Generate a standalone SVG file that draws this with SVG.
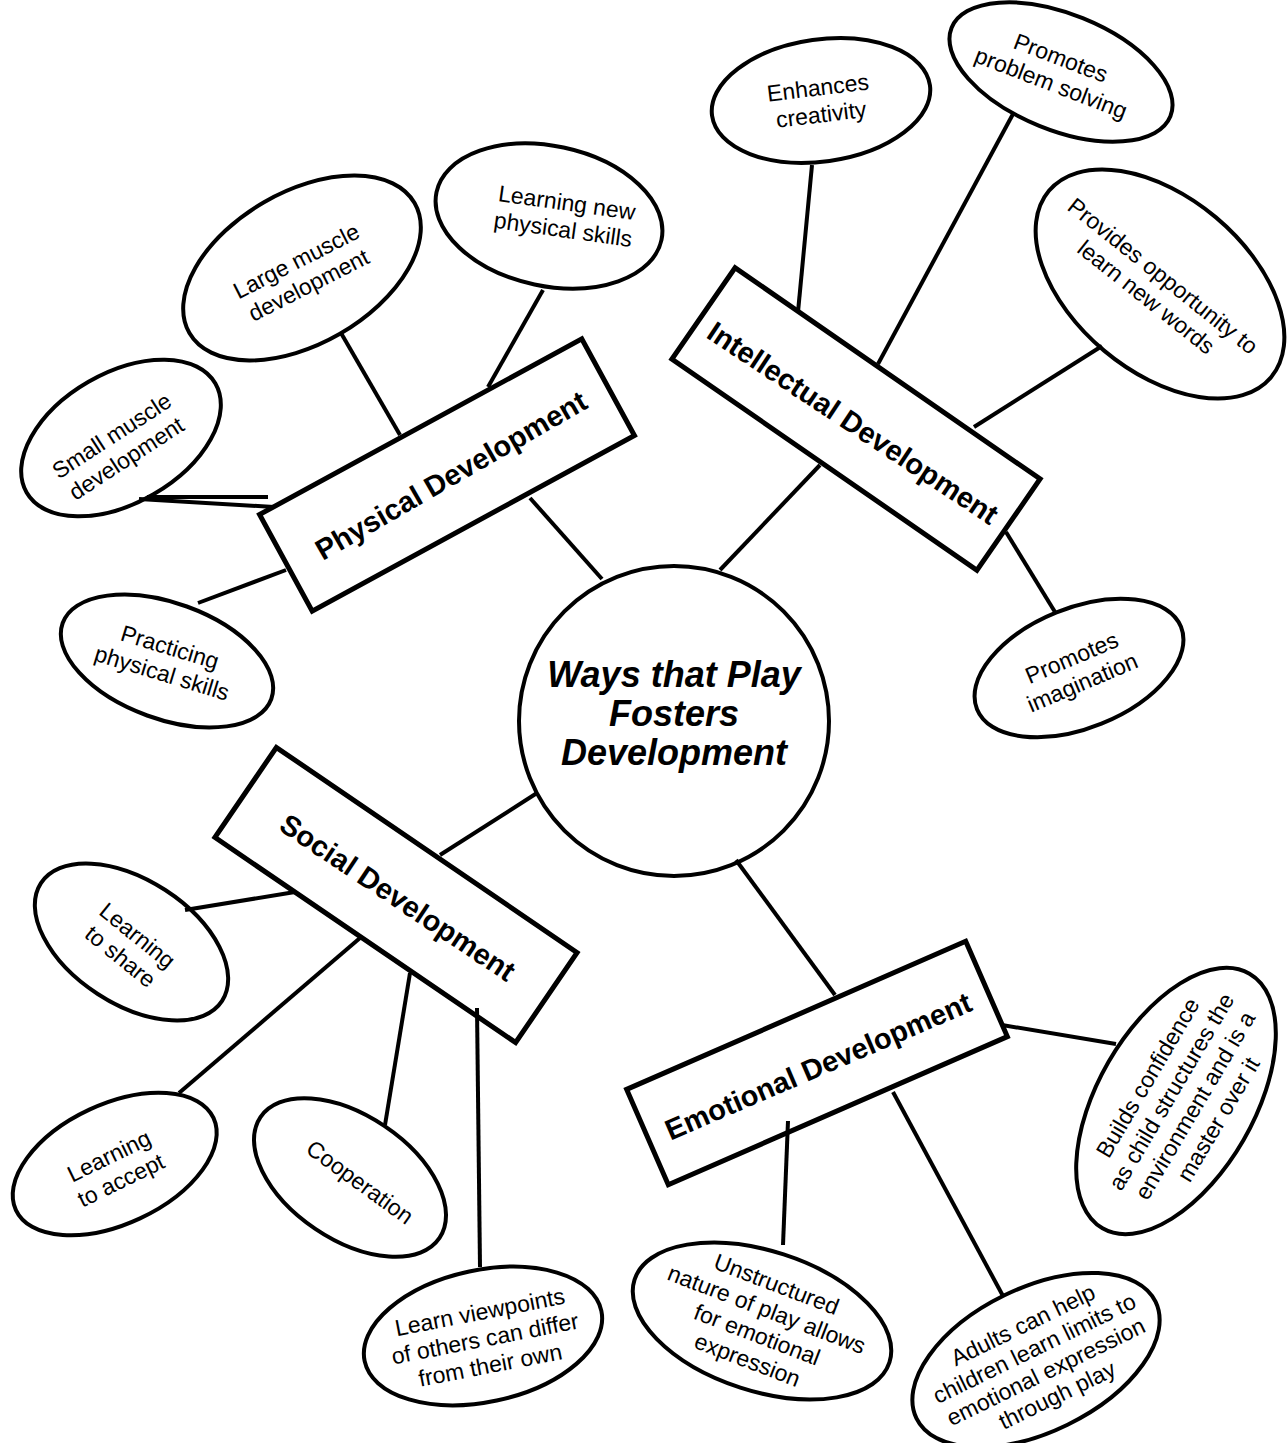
<svg xmlns="http://www.w3.org/2000/svg" width="1288" height="1443" viewBox="0 0 1288 1443">
<style>
.bg{fill:#fff}
.oval{fill:#fff;stroke:#000;stroke-width:4}
.box{fill:#fff;stroke:#000;stroke-width:5}
.hub{fill:#fff;stroke:#000;stroke-width:4}
#connectors line{stroke:#000;stroke-width:4}
text{font-family:"Liberation Sans",Arial,sans-serif;fill:#000;text-anchor:middle;dominant-baseline:central}
.lbl{font-size:23px}
.blbl{font-size:29px;font-weight:bold}
.title{font-size:36px;font-weight:bold;font-style:italic;dominant-baseline:auto}
</style>
<rect class="bg" x="0" y="0" width="1288" height="1443"/>

<g id="center">
<circle class="hub" cx="674" cy="721" r="155"/>
<text class="title"><tspan x="674" y="687">Ways that Play</tspan><tspan x="674" y="726">Fosters</tspan><tspan x="674" y="765">Development</tspan></text>
</g>

<g id="physical">
<rect class="box" x="-183.5" y="-55" width="367" height="110" transform="translate(447,475) rotate(-28.6)"/>
<text class="blbl" transform="translate(451,475.5) rotate(-30)">Physical Development</text>
</g>
<g id="intellectual">
<rect class="box" x="-185.5" y="-55.5" width="371" height="111" transform="translate(856,419) rotate(34.7)"/>
<text class="blbl" transform="translate(853,423) rotate(33.5)">Intellectual Development</text>
</g>
<g id="social">
<rect class="box" x="-182" y="-54.5" width="364" height="109" transform="translate(396,895) rotate(34.3)"/>
<text class="blbl" transform="translate(397.7,897.5) rotate(33.7)">Social Development</text>
</g>
<g id="emotional">
<rect class="box" x="-185" y="-52" width="370" height="104" transform="translate(817,1063) rotate(-23.6)"/>
<text class="blbl" transform="translate(818.3,1066.2) rotate(-23.3)">Emotional Development</text>
</g>

<g id="small-muscle">
<ellipse class="oval" rx="109" ry="65" transform="translate(121,438) rotate(-30)"/>
<text class="lbl" transform="translate(119,447) rotate(-33)"><tspan x="0" y="-13.5">Small muscle</tspan><tspan x="0" y="13.5">development</tspan></text>
</g>
<g id="large-muscle">
<ellipse class="oval" rx="130" ry="76" transform="translate(302,268) rotate(-30)"/>
<text class="lbl" transform="translate(302.5,273) rotate(-27)"><tspan x="0" y="-13.5">Large muscle</tspan><tspan x="0" y="13.5">development</tspan></text>
</g>
<g id="learning-new">
<ellipse class="oval" rx="115" ry="70" transform="translate(549,216) rotate(12)"/>
<text class="lbl" transform="translate(565,216) rotate(8)"><tspan x="0" y="-13.5">Learning new</tspan><tspan x="0" y="13.5">physical skills</tspan></text>
</g>
<g id="practicing">
<ellipse class="oval" rx="111" ry="58" transform="translate(167,661) rotate(20)"/>
<text class="lbl" transform="translate(166,660) rotate(17)"><tspan x="0" y="-13.5">Practicing</tspan><tspan x="0" y="13.5">physical skills</tspan></text>
</g>

<g id="enhances">
<ellipse class="oval" rx="110" ry="61" transform="translate(821,100.5) rotate(-8)"/>
<text class="lbl" transform="translate(819.5,101) rotate(-7)"><tspan x="0" y="-13.5">Enhances</tspan><tspan x="0" y="13.5">creativity</tspan></text>
</g>
<g id="problem-solving">
<ellipse class="oval" rx="118" ry="58" transform="translate(1061,72) rotate(22)"/>
<text class="lbl" transform="translate(1056,70.4) rotate(21)"><tspan x="0" y="-13.5">Promotes</tspan><tspan x="0" y="13.5">problem solving</tspan></text>
</g>
<g id="new-words">
<ellipse class="oval" rx="145" ry="87" transform="translate(1160,284) rotate(40)"/>
<text class="lbl" transform="translate(1154.6,286.5) rotate(38.5)"><tspan x="0" y="-13.5">Provides opportunity to</tspan><tspan x="0" y="13.5">learn new words</tspan></text>
</g>
<g id="imagination">
<ellipse class="oval" rx="110" ry="60" transform="translate(1079,668) rotate(-22)"/>
<text class="lbl" transform="translate(1077,670) rotate(-23)"><tspan x="0" y="-13.5">Promotes</tspan><tspan x="0" y="13.5">imagination</tspan></text>
</g>

<g id="share">
<ellipse class="oval" rx="108" ry="62" transform="translate(131.5,942) rotate(33)"/>
<text class="lbl" transform="translate(129,946) rotate(39)"><tspan x="0" y="-13.5">Learning</tspan><tspan x="0" y="13.5">to share</tspan></text>
</g>
<g id="accept">
<ellipse class="oval" rx="109" ry="60" transform="translate(114.7,1164) rotate(-25)"/>
<text class="lbl" transform="translate(115,1168) rotate(-26)"><tspan x="0" y="-13.5">Learning</tspan><tspan x="0" y="13.5">to accept</tspan></text>
</g>
<g id="cooperation">
<ellipse class="oval" rx="108" ry="62" transform="translate(350,1177.5) rotate(34)"/>
<text class="lbl" transform="translate(360,1182) rotate(36)">Cooperation</text>
</g>
<g id="viewpoints">
<ellipse class="oval" rx="121" ry="66" transform="translate(483,1336) rotate(-12)"/>
<text class="lbl" transform="translate(485,1338.5) rotate(-11)"><tspan x="0" y="-27">Learn viewpoints</tspan><tspan x="0" y="0">of others can differ</tspan><tspan x="0" y="27">from their own</tspan></text>
</g>

<g id="confidence">
<ellipse class="oval" rx="147" ry="78" transform="translate(1176,1101) rotate(-60)"/>
<text class="lbl" transform="translate(1183,1098.5) rotate(-59.5)"><tspan x="0" y="-41">Builds confidence</tspan><tspan x="0" y="-13.7">as child structures the</tspan><tspan x="0" y="13.7">environment and is a</tspan><tspan x="0" y="41">master over it</tspan></text>
</g>
<g id="unstructured">
<ellipse class="oval" rx="134" ry="70" transform="translate(762,1321) rotate(18)"/>
<text class="lbl" transform="translate(762,1322) rotate(21)"><tspan x="0" y="-40.5">Unstructured</tspan><tspan x="0" y="-13.5">nature of play allows</tspan><tspan x="0" y="13.5">for emotional</tspan><tspan x="0" y="40.5">expression</tspan></text>
</g>
<g id="adults">
<ellipse class="oval" rx="133" ry="72" transform="translate(1036,1360) rotate(-26)"/>
<text class="lbl" transform="translate(1040,1360) rotate(-26)"><tspan x="0" y="-39">Adults can help</tspan><tspan x="0" y="-13">children learn limits to</tspan><tspan x="0" y="13">emotional expression</tspan><tspan x="0" y="39">through play</tspan></text>
</g>

<g id="connectors">
<line x1="341" y1="333" x2="400" y2="435"/>
<line x1="543" y1="290" x2="488" y2="387"/>
<line x1="147" y1="497" x2="268" y2="497"/>
<line x1="139" y1="499" x2="274" y2="507"/>
<line x1="286" y1="570" x2="198" y2="603"/>
<line x1="530" y1="498" x2="602" y2="579"/>
<line x1="812" y1="165" x2="798" y2="312"/>
<line x1="1013" y1="114" x2="878" y2="364"/>
<line x1="1102" y1="346" x2="974" y2="427"/>
<line x1="820" y1="465" x2="720" y2="570"/>
<line x1="1006" y1="532" x2="1055" y2="612"/>
<line x1="537" y1="793" x2="440" y2="855"/>
<line x1="295" y1="892" x2="185" y2="910"/>
<line x1="360" y1="938" x2="179" y2="1093"/>
<line x1="410" y1="973" x2="385" y2="1125"/>
<line x1="477" y1="1008" x2="480" y2="1267"/>
<line x1="736" y1="860" x2="835" y2="995"/>
<line x1="1002" y1="1025" x2="1116" y2="1044"/>
<line x1="788" y1="1121" x2="783" y2="1245"/>
<line x1="893" y1="1092" x2="1003" y2="1296"/>
</g>
</svg>
